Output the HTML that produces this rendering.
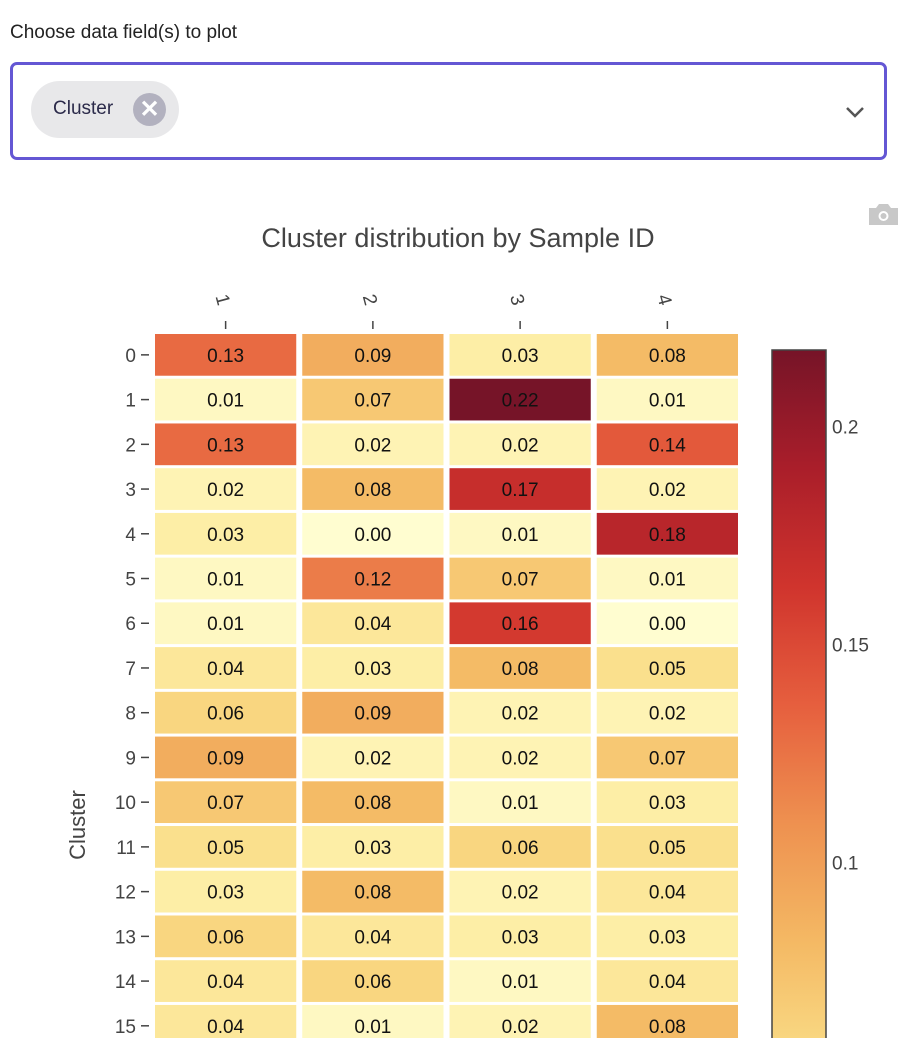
<!DOCTYPE html>
<html><head><meta charset="utf-8"><style>
body{margin:0;width:904px;height:1038px;overflow:hidden;background:#fff;font-family:"Liberation Sans",sans-serif;position:relative}
.lbl{position:absolute;left:10px;top:22px;font-size:19px;color:#222}
.box{position:absolute;left:10px;top:62px;width:871px;height:92px;border:3px solid #6457d4;border-radius:7px;box-sizing:content-box}
.chip{position:absolute;left:18px;top:16px;width:148px;height:57px;background:#e8e8ea;border-radius:29px}
.chip span{position:absolute;left:22px;top:17px;font-size:19px;color:#2b2a4a}
.x{position:absolute;left:102px;top:12px;width:33px;height:33px;border-radius:50%;background:#b2b1bf;color:#fff;text-align:center;line-height:33px;font-size:24px;font-weight:bold}
</style></head><body>
<div class="lbl">Choose data field(s) to plot</div>
<div class="box">
 <div class="chip"><span>Cluster</span><div class="x">✕</div></div>
 <svg style="position:absolute;left:831px;top:40px" width="22" height="14"><path d="M3 3 L11 11 L19 3" stroke="#555" stroke-width="2.5" fill="none"/></svg>
</div>
<svg id="chart" width="904" height="1038" style="position:absolute;left:0;top:0">
 <defs><linearGradient id="cb" x1="0" y1="1" x2="0" y2="0"></linearGradient></defs>
</svg>
<script>
const sampleIds=["1","2","3","4"];
const clusters=["0","1","2","3","4","5","6","7","8","9","10","11","12","13","14","15"];
const values=[
[0.13,0.09,0.03,0.08],[0.01,0.07,0.22,0.01],[0.13,0.02,0.02,0.14],[0.02,0.08,0.17,0.02],
[0.03,0.00,0.01,0.18],[0.01,0.12,0.07,0.01],[0.01,0.04,0.16,0.00],[0.04,0.03,0.08,0.05],
[0.06,0.09,0.02,0.02],[0.09,0.02,0.02,0.07],[0.07,0.08,0.01,0.03],[0.05,0.03,0.06,0.05],
[0.03,0.08,0.02,0.04],[0.06,0.04,0.03,0.03],[0.04,0.06,0.01,0.04],[0.04,0.01,0.02,0.08]];
const cbTicks=[0.1,0.15,0.2];
const scale=[[0,[255,253,208]],[0.125,[253,240,170]],[0.25,[250,221,135]],[0.375,[244,185,100]],[0.5,[238,145,80]],[0.625,[230,95,62]],[0.75,[208,52,45]],[0.875,[170,30,42]],[1,[118,20,40]]];
const svg=document.getElementById('chart');const NS='http://www.w3.org/2000/svg';
function mk(t,a,p){const e=document.createElementNS(NS,t);for(const k in a)e.setAttribute(k,a[k]);(p||svg).appendChild(e);return e;}
const zmin=0,zmax=Math.max(...values.flat())-0.0025;
function col(v){let t=(v-zmin)/(zmax-zmin);t=Math.max(0,Math.min(1,t));for(let i=1;i<scale.length;i++){if(t<=scale[i][0]){const a=scale[i-1],b=scale[i];const f=(t-a[0])/(b[0]-a[0]);const c=a[1].map((x,j)=>Math.round(x+(b[1][j]-x)*f));return `rgb(${c})`;}}return 'rgb(118,20,40)';}
const x0=152,x1=741,y0=332.5,pitchY=44.73;
const colW=(x1-x0)/sampleIds.length;
const xc=i=>x0+colW*(i+0.5), yc=j=>y0+pitchY*(j+0.5);
const cbTop=350,pxPerUnit=4360;const cbBot=cbTop+(zmax-zmin)*pxPerUnit;const cbY=v=>cbBot-(v-zmin)*pxPerUnit;
const t=mk('text',{x:458,y:247,'text-anchor':'middle','font-size':27,fill:'#444'});t.textContent='Cluster distribution by Sample ID';


const yt=mk('text',{transform:'translate(85,825) rotate(-90)','text-anchor':'middle','font-size':22,fill:'#444'});yt.textContent='Cluster';


sampleIds.forEach((s,i)=>{
 const g=mk('text',{transform:`translate(${xc(i)-4},${300}) rotate(75)`,'text-anchor':'middle','dominant-baseline':'middle','font-size':19,fill:'#444'});g.textContent=s;
 
 
 mk('line',{x1:xc(i),x2:xc(i),y1:321,y2:329,stroke:'#444','stroke-width':1.5});
});
clusters.forEach((c,j)=>{
 const g=mk('text',{x:136,y:yc(j)+7,'text-anchor':'end','font-size':19,fill:'#444'});g.textContent=c;
 
 
 mk('line',{x1:141,x2:149,y1:yc(j),y2:yc(j),stroke:'#444','stroke-width':1.5});
 sampleIds.forEach((s,i)=>{
  const v=values[j][i];
  const r=mk('rect',{x:xc(i)-colW/2+3,y:yc(j)-pitchY/2+1.5,width:colW-6,height:pitchY-3,fill:col(v)});
  
  
  const tx=mk('text',{x:xc(i),y:yc(j)+7,'text-anchor':'middle','font-size':19,fill:'#111'});tx.textContent=v.toFixed(2);
  
  
 });
});
const grad=svg.querySelector('#cb');
scale.forEach(s=>mk('stop',{offset:s[0],'stop-color':`rgb(${s[1]})`},grad));
const cb=mk('rect',{x:772,y:cbTop,width:54,height:cbBot-cbTop,fill:'url(#cb)',stroke:'#444','stroke-width':1.5});


cbTicks.forEach(v=>{const g=mk('text',{x:832,y:cbY(v)+7,'font-size':19,fill:'#444'});g.textContent=String(v);
 
 });
const cam=mk('g',{transform:'translate(869,204)'});


mk('path',{d:'M0 4 h7 l3-4 h9 l3 4 h7 v17 h-29 z',fill:'#c8c8c8'},cam);
mk('circle',{cx:14.5,cy:12,r:5,fill:'#fff'},cam);
mk('circle',{cx:14.5,cy:12,r:3,fill:'#c8c8c8'},cam);
</script>
</body></html>
